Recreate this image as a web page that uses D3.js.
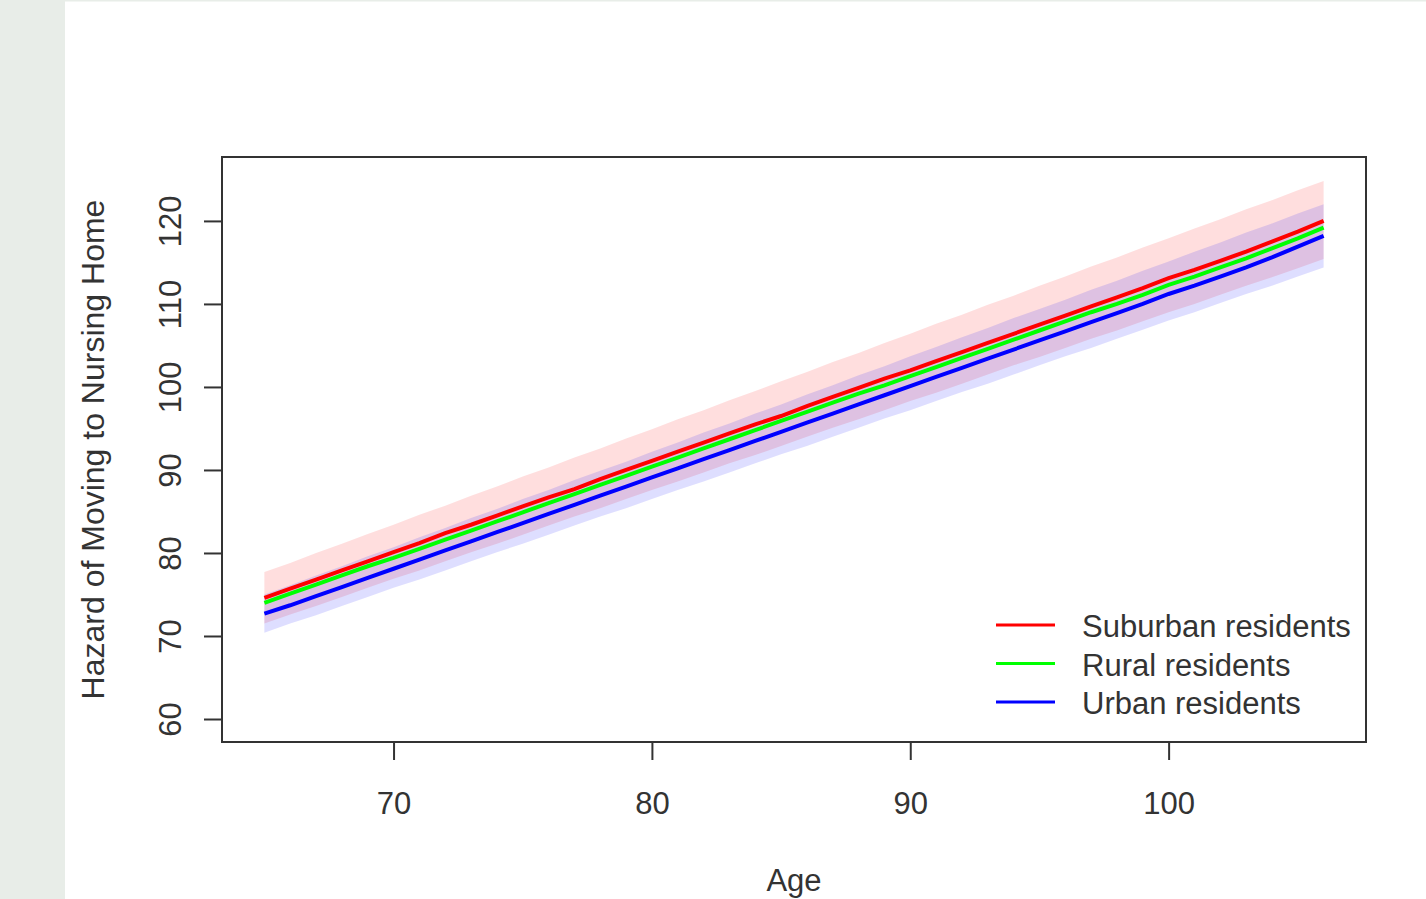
<!DOCTYPE html>
<html>
<head>
<meta charset="utf-8">
<title>Hazard of Moving to Nursing Home</title>
<script src="https://d3js.org/d3.v7.min.js"></script>
<style>
    body { margin: 0; background: #fff; }
    svg { display: block; }
    text { font-family: 'Liberation Sans', Arial, sans-serif; fill: #333; }
</style>
</head>
<body>
<div id="chart"></div>
<script>
// ages 65..106, one value per year
const ages = d3.range(65, 107);

const suburban = [74.6, 75.7, 76.8, 77.9, 79.0, 80.1, 81.2, 82.4, 83.4, 84.5,
                  85.6, 86.7, 87.7, 88.9, 90.0, 91.1, 92.2, 93.3, 94.4, 95.5,
                  96.5, 97.7, 98.8, 99.9, 101.0, 102.0, 103.1, 104.2, 105.3, 106.4,
                  107.5, 108.6, 109.7, 110.8, 111.9, 113.1, 114.1, 115.2, 116.3, 117.5,
                  118.7, 120.0];
const rural    = [74.0, 75.1, 76.2, 77.3, 78.4, 79.4, 80.5, 81.6, 82.7, 83.8,
                  84.9, 86.0, 87.1, 88.2, 89.3, 90.4, 91.5, 92.6, 93.7, 94.8,
                  95.9, 97.0, 98.1, 99.2, 100.2, 101.3, 102.4, 103.5, 104.6, 105.7,
                  106.8, 107.9, 109.0, 110.0, 111.1, 112.3, 113.3, 114.4, 115.5, 116.7,
                  117.9, 119.2];
const urban    = [72.7, 73.7, 74.8, 75.9, 77.0, 78.1, 79.2, 80.3, 81.4, 82.5,
                  83.6, 84.7, 85.8, 86.9, 88.0, 89.1, 90.2, 91.3, 92.4, 93.5,
                  94.6, 95.7, 96.8, 97.9, 99.0, 100.1, 101.2, 102.3, 103.4, 104.5,
                  105.6, 106.7, 107.8, 108.9, 110.0, 111.2, 112.2, 113.3, 114.4, 115.6,
                  116.9, 118.2];

// confidence bands
const suburbanHi = [77.7, 78.8, 80.0, 81.1, 82.3, 83.4, 84.6, 85.7, 86.9, 88.0,
                    89.2, 90.3, 91.5, 92.6, 93.8, 94.9, 96.1, 97.2, 98.4, 99.5,
                    100.7, 101.8, 103.0, 104.1, 105.3, 106.4, 107.6, 108.7, 109.9, 111.0,
                    112.2, 113.3, 114.5, 115.6, 116.8, 117.9, 119.1, 120.2, 121.4, 122.5,
                    123.7, 124.8];
const suburbanLo = [71.5, 72.6, 73.6, 74.7, 75.8, 76.9, 77.9, 79.0, 80.1, 81.1,
                    82.2, 83.3, 84.4, 85.4, 86.5, 87.6, 88.6, 89.7, 90.8, 91.8,
                    92.9, 94.0, 95.1, 96.1, 97.2, 98.3, 99.3, 100.4, 101.5, 102.6,
                    103.6, 104.7, 105.8, 106.8, 107.9, 109.0, 110.0, 111.1, 112.2, 113.2,
                    114.3, 115.4];
const urbanHi    = [75.0, 76.1, 77.3, 78.4, 79.6, 80.7, 81.9, 83.0, 84.2, 85.3,
                    86.5, 87.6, 88.8, 89.9, 91.0, 92.2, 93.3, 94.5, 95.6, 96.8,
                    97.9, 99.1, 100.2, 101.4, 102.5, 103.7, 104.8, 106.0, 107.1, 108.3,
                    109.4, 110.5, 111.7, 112.8, 114.0, 115.1, 116.3, 117.4, 118.6, 119.7,
                    120.9, 122.0];
const urbanLo    = [70.4, 71.5, 72.5, 73.6, 74.7, 75.8, 76.8, 77.9, 79.0, 80.1,
                    81.1, 82.2, 83.3, 84.4, 85.4, 86.5, 87.6, 88.6, 89.7, 90.8,
                    91.9, 92.9, 94.0, 95.1, 96.2, 97.2, 98.3, 99.4, 100.4, 101.5,
                    102.6, 103.7, 104.7, 105.8, 106.9, 108.0, 109.0, 110.1, 111.2, 112.2,
                    113.3, 114.4];

const xTicks = [70, 80, 90, 100];
const yTicks = [60, 70, 80, 90, 100, 110, 120];
const legendLabels = ["Suburban residents", "Rural residents", "Urban residents"];
const legendColors = ["#ff0000", "#00ff00", "#0000ff"];

const W = 1426, H = 899;
const box = {left: 222, right: 1366, top: 157, bottom: 742};

const svg = d3.select("#chart").append("svg")
    .attr("width", W).attr("height", H);

// grey page strip on the left
svg.append("rect").attr("x", 0).attr("y", 0).attr("width", 65).attr("height", H)
    .attr("fill", "#e8ede8");
svg.append("rect").attr("x", 65).attr("y", 0).attr("width", W - 65).attr("height", 1.5)
    .attr("fill", "#e8ede8");

const x = d3.scaleLinear().domain([63.36, 107.64]).range([box.left, box.right]);
const y = d3.scaleLinear().domain([57.23, 127.7]).range([box.bottom, box.top]);

function band(lo, hi) {
    return d3.area()
        .x((d, i) => x(ages[i]))
        .y0((d, i) => y(lo[i]))
        .y1((d, i) => y(hi[i]))(ages);
}

svg.append("path").attr("d", band(suburbanLo, suburbanHi))
    .attr("fill", "rgba(255,0,0,0.13)");
svg.append("path").attr("d", band(urbanLo, urbanHi))
    .attr("fill", "rgba(0,0,255,0.13)");

const line = d3.line().x((d, i) => x(ages[i])).y(d => y(d));
[suburban, rural, urban].forEach((s, k) => {
    svg.append("path").attr("d", line(s))
        .attr("fill", "none")
        .attr("stroke", legendColors[k])
        .attr("stroke-width", 4);
});

// frame
svg.append("rect")
    .attr("x", box.left).attr("y", box.top)
    .attr("width", box.right - box.left).attr("height", box.bottom - box.top)
    .attr("fill", "none").attr("stroke", "#333").attr("stroke-width", 2);

// axes
const xAxis = d3.axisBottom(x).tickValues(xTicks).tickSize(18).tickPadding(32);
const gx = svg.append("g").attr("transform", `translate(0,${box.bottom})`).call(xAxis);
gx.select(".domain").remove();
gx.selectAll("line").attr("stroke", "#333").attr("stroke-width", 2);
gx.selectAll("text").style("font-size", "31px").attr("fill", "#333");

const yAxis = d3.axisLeft(y).tickValues(yTicks).tickSize(18).tickFormat(d3.format("d"));
const gy = svg.append("g").attr("transform", `translate(${box.left},0)`).call(yAxis);
gy.select(".domain").remove();
gy.selectAll("line").attr("stroke", "#333").attr("stroke-width", 2);
gy.selectAll("text")
    .attr("x", null).attr("dy", null)
    .attr("transform", "translate(-41,0) rotate(-90)")
    .attr("text-anchor", "middle")
    .style("font-size", "31px").attr("fill", "#333");

svg.append("text")
    .attr("x", (box.left + box.right) / 2).attr("y", 891)
    .attr("text-anchor", "middle").style("font-size", "31px")
    .text("Age");

svg.append("text")
    .attr("transform", `translate(104,${(box.top + box.bottom) / 2}) rotate(-90)`)
    .attr("text-anchor", "middle").style("font-size", "32px")
    .text("Hazard of Moving to Nursing Home");

// legend
const legend = svg.append("g");
legendLabels.forEach((lab, i) => {
    const ly = 625 + i * 38.5;
    legend.append("line")
        .attr("x1", 996).attr("x2", 1055).attr("y1", ly).attr("y2", ly)
        .attr("stroke", legendColors[i]).attr("stroke-width", 3);
    legend.append("text")
        .attr("x", 1082).attr("y", ly + 12)
        .style("font-size", "31px")
        .text(lab);
});
</script>
</body>
</html>
